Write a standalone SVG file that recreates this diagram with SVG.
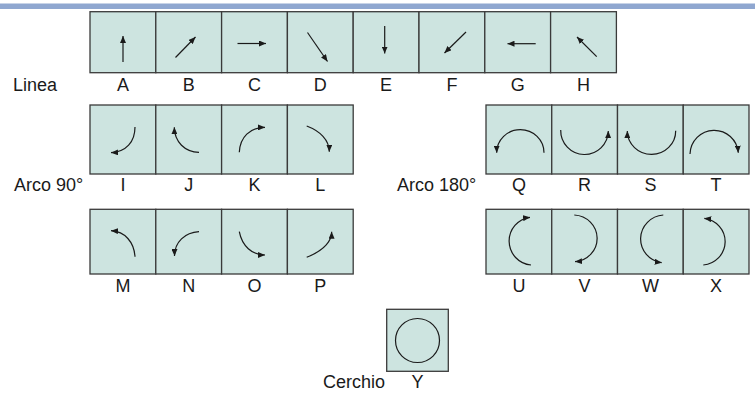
<svg xmlns="http://www.w3.org/2000/svg" width="755" height="393" viewBox="0 0 755 393">
  <style>
    .cell { fill: #cde4e0; stroke: #3a3a3a; stroke-width: 1.3; }
    .mv { fill: none; stroke: #1a1a1a; stroke-width: 1.2; marker-end: url(#tip); }
    .ring { fill: none; stroke: #1a1a1a; stroke-width: 1.2; }
    .lbl { font-family: "Liberation Sans", Arial, sans-serif; font-size: 18px; fill: #1a1a1a; }
    .mid { text-anchor: middle; }
  </style>
  <defs>
    <marker id="tip" markerUnits="userSpaceOnUse" markerWidth="8" markerHeight="6" refX="7" refY="3" orient="auto">
      <path d="M0,0 L7,3 L0,6 Z" fill="#1a1a1a"/>
    </marker>
  </defs>

  <!-- header band -->
  <rect x="0" y="3.5" width="755" height="5.5" fill="#8fa7d0"/>

  <!-- row labels -->
  <text class="lbl" x="13" y="90.5">Linea</text>
  <text class="lbl" x="14" y="190.5">Arco 90°</text>
  <text class="lbl" x="397" y="190.5">Arco 180°</text>
  <text class="lbl" x="323" y="388">Cerchio</text>

  <!-- Linea: straight moves -->
  <g id="A"><rect class="cell" x="90" y="11.7" width="65.8" height="61"/><path class="mv" d="M123,62 L123,36"/><text class="lbl mid" x="123" y="90.5">A</text></g>
  <g id="B"><rect class="cell" x="155.8" y="11.7" width="65.8" height="61"/><path class="mv" d="M175.5,57.5 L195.5,37"/><text class="lbl mid" x="188.7" y="90.5">B</text></g>
  <g id="C"><rect class="cell" x="221.6" y="11.7" width="65.8" height="61"/><path class="mv" d="M237.5,43.5 L266,43.5"/><text class="lbl mid" x="254.5" y="90.5">C</text></g>
  <g id="D"><rect class="cell" x="287.4" y="11.7" width="65.8" height="61"/><path class="mv" d="M307.5,32.5 L327.5,61.5"/><text class="lbl mid" x="320.3" y="90.5">D</text></g>
  <g id="E"><rect class="cell" x="353.2" y="11.7" width="65.8" height="61"/><path class="mv" d="M384.7,26 L384.7,53.5"/><text class="lbl mid" x="386.1" y="90.5">E</text></g>
  <g id="F"><rect class="cell" x="419" y="11.7" width="65.8" height="61"/><path class="mv" d="M466,32 L444.5,53"/><text class="lbl mid" x="451.9" y="90.5">F</text></g>
  <g id="G"><rect class="cell" x="484.8" y="11.7" width="65.8" height="61"/><path class="mv" d="M535.7,43.7 L507.5,43.7"/><text class="lbl mid" x="517.7" y="90.5">G</text></g>
  <g id="H"><rect class="cell" x="550.6" y="11.7" width="65.8" height="61"/><path class="mv" d="M596.7,56.7 L577,37"/><text class="lbl mid" x="583.5" y="90.5">H</text></g>

  <!-- Arco 90°: quarter turns -->
  <g id="I"><rect class="cell" x="90" y="105" width="65.8" height="69"/><path class="mv" d="M135,127 C135,142 126,152 111,152.7"/><text class="lbl mid" x="123" y="190.5">I</text></g>
  <g id="J"><rect class="cell" x="155.8" y="105" width="65.8" height="69"/><path class="mv" d="M199,152.3 C185,152 174.5,142 174.3,127.3"/><text class="lbl mid" x="188.7" y="190.5">J</text></g>
  <g id="K"><rect class="cell" x="221.6" y="105" width="65.8" height="69"/><path class="mv" d="M239.3,152.3 C240,137 250,127.5 265,127.3"/><text class="lbl mid" x="254.5" y="190.5">K</text></g>
  <g id="L"><rect class="cell" x="287.4" y="105" width="65.8" height="69"/><path class="mv" d="M306.7,126 C320,131 329.3,140 329.3,151.7"/><text class="lbl mid" x="320.3" y="190.5">L</text></g>

  <g id="M"><rect class="cell" x="90" y="209.3" width="65.8" height="64.7"/><path class="mv" d="M135,256.7 C134,242 125,231.5 111,230.7"/><text class="lbl mid" x="123" y="291.5">M</text></g>
  <g id="N"><rect class="cell" x="155.8" y="209.3" width="65.8" height="64.7"/><path class="mv" d="M199,231.7 C185,232.5 174.5,242 174.5,256"/><text class="lbl mid" x="188.7" y="291.5">N</text></g>
  <g id="O"><rect class="cell" x="221.6" y="209.3" width="65.8" height="64.7"/><path class="mv" d="M239.3,231.7 C242,246 252,255 265,255"/><text class="lbl mid" x="254.5" y="291.5">O</text></g>
  <g id="P"><rect class="cell" x="287.4" y="209.3" width="65.8" height="64.7"/><path class="mv" d="M306.7,257.3 C322,251 331.5,243 331.7,231.7"/><text class="lbl mid" x="320.3" y="291.5">P</text></g>

  <!-- Arco 180°: half turns -->
  <g id="Q"><rect class="cell" x="486" y="105" width="65.75" height="69"/><path class="mv" d="M544,152.7 A23.6,23 0 0 0 496.7,152.7"/><text class="lbl mid" x="518.9" y="190.5">Q</text></g>
  <g id="R"><rect class="cell" x="551.75" y="105" width="65.75" height="69"/><path class="mv" d="M560.7,130 A23.8,24 0 0 0 608.3,131"/><text class="lbl mid" x="584.6" y="190.5">R</text></g>
  <g id="S"><rect class="cell" x="617.5" y="105" width="65.75" height="69"/><path class="mv" d="M675.7,130.7 A24.2,23.5 0 0 1 627.3,131"/><text class="lbl mid" x="650.4" y="190.5">S</text></g>
  <g id="T"><rect class="cell" x="683.25" y="105" width="65.75" height="69"/><path class="mv" d="M690,154 A24.2,24.5 0 0 1 738.3,152.7"/><text class="lbl mid" x="716.1" y="190.5">T</text></g>

  <g id="U"><rect class="cell" x="486" y="209.3" width="65.75" height="64.7"/><path class="mv" d="M531,265 A24,24 0 0 1 530,217.3"/><text class="lbl mid" x="518.9" y="291.5">U</text></g>
  <g id="V"><rect class="cell" x="551.75" y="209.3" width="65.75" height="64.7"/><path class="mv" d="M574.3,215 A24,23.4 0 0 1 575,261.7"/><text class="lbl mid" x="584.6" y="291.5">V</text></g>
  <g id="W"><rect class="cell" x="617.5" y="209.3" width="65.75" height="64.7"/><path class="mv" d="M663.3,215 A24.5,24 0 0 0 661.7,262.7"/><text class="lbl mid" x="650.4" y="291.5">W</text></g>
  <g id="X"><rect class="cell" x="683.25" y="209.3" width="65.75" height="64.7"/><path class="mv" d="M703.3,265 A24,23.5 0 0 0 704.3,218.3"/><text class="lbl mid" x="716.1" y="291.5">X</text></g>

  <!-- Cerchio: full circle -->
  <g id="Y"><rect class="cell" x="386.7" y="309.3" width="61.6" height="62"/><circle class="ring" cx="417.5" cy="340.5" r="22"/><text class="lbl mid" x="417.5" y="388">Y</text></g>

  <!-- connectors: none between cells -->
  <g id="connectors"/>
</svg>
